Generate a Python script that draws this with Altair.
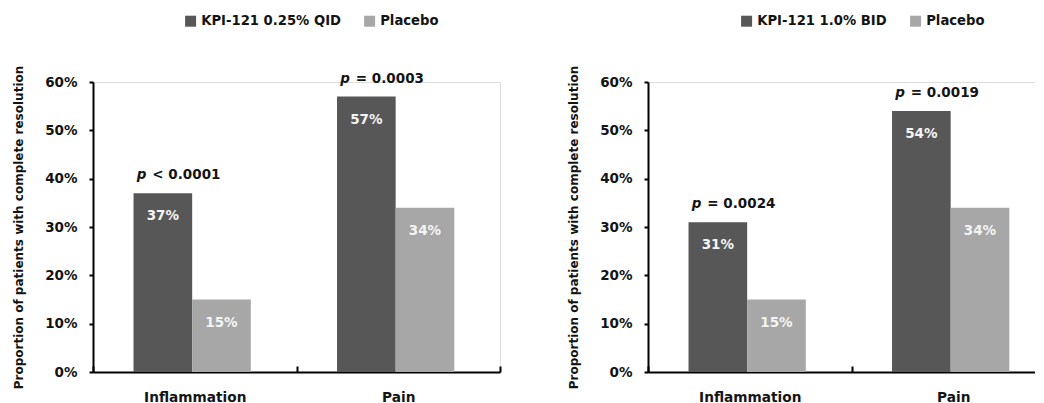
import altair as alt
import pandas as pd

# ---- data ----
categories = ["Inflammation", "Pain"]
placebo = "Placebo"
left_drug = "KPI-121 0.25% QID"
left_drug_vals = [37, 57]
left_placebo_vals = [15, 34]
left_pvals = ["< 0.0001", "= 0.0003"]

right_drug = "KPI-121 1.0% BID"
right_drug_vals = [31, 54]
right_placebo_vals = [15, 34]
right_pvals = ["= 0.0024", "= 0.0019"]

y_ticks = [0, 10, 20, 30, 40, 50, 60]
y_title = "Proportion of patients with complete resolution"

DARK = "#575757"
LIGHT = "#a7a7a7"
FONT = "DejaVu Sans"
TXT = "#141414"


def panel(drug, dvals, pvals, ptexts, legend_x):
    rows = []
    for c, d, p, s in zip(categories, dvals, pvals, ptexts):
        rows.append(dict(cat=c, grp=drug, val=d, lab=f"{d}%", pv=s, pp="p"))
        rows.append(dict(cat=c, grp=placebo, val=p, lab=f"{p}%", pv="", pp=""))
    df = pd.DataFrame(rows)
    order = [drug, placebo]

    x = alt.X(
        "cat:N",
        sort=categories,
        scale=alt.Scale(paddingInner=0, paddingOuter=0),
        axis=alt.Axis(
            title=None,
            labelAngle=0,
            tickBand="extent",
            tickSize={"expr": "-6"},
            labelPadding=24,
            labelFontSize=13.7,
        ),
    )
    xo = alt.XOffset(
        "grp:N",
        sort=order,
        scale=alt.Scale(paddingInner=0, paddingOuter=0.735, align=0.47),
    )
    y = alt.Y(
        "val:Q",
        scale=alt.Scale(domain=[0, 60], nice=False),
        axis=alt.Axis(
            values=y_ticks,
            labelExpr="datum.value + '%'",
            title=y_title,
            tickSize=4,
            labelPadding=12,
            titlePadding=19,
            titleFontSize=12,
            titleFontWeight="bold",
            titleColor=TXT,
        ),
    )
    color = alt.Color(
        "grp:N",
        sort=order,
        scale=alt.Scale(domain=order, range=[DARK, LIGHT]),
        legend=alt.Legend(
            title=None,
            orient="none",
            direction="horizontal",
            legendX=legend_x,
            legendY=-67.5,
            symbolType="square",
            symbolSize=121,
            symbolStrokeWidth=0,
            labelFont=FONT,
            labelFontSize=13.2,
            labelFontWeight="bold",
            labelColor=TXT,
            labelOffset=4,
            columnPadding=22,
            padding=0,
        ),
    )

    base = alt.Chart(df).encode(x=x, xOffset=xo, y=y)
    bars = base.mark_bar(strokeWidth=0).encode(color=color)
    inside = base.mark_text(
        font=FONT, fontSize=13.5, fontWeight="bold", color="#f4f4f4",
        baseline="middle", dy=23,
    ).encode(text="lab:N")
    drug_only = base.transform_filter(alt.datum.pv != "")
    p_italic = drug_only.mark_text(
        font=FONT, fontSize=13.5, fontWeight="bold", fontStyle="italic",
        color=TXT, align="left", baseline="middle", dx=-26, dy=-18,
    ).encode(text="pp:N")
    p_rest = drug_only.mark_text(
        font=FONT, fontSize=13.5, fontWeight="bold",
        color=TXT, align="left", baseline="middle", dx=-10.5, dy=-18,
    ).encode(text="pv:N")

    return alt.layer(bars, inside, p_italic, p_rest).properties(width=407, height=290)


left = panel(left_drug, left_drug_vals, left_placebo_vals, left_pvals, 91)
right = panel(right_drug, right_drug_vals, right_placebo_vals, right_pvals, 92)

chart = (
    alt.hconcat(left, right, spacing=148, bounds="flush")
    .resolve_scale(color="independent", x="independent", y="independent", xOffset="independent")
    .resolve_legend(color="independent")
    .properties(padding={"left": 4, "top": 6, "right": -22, "bottom": 0})
    .configure_view(strokeWidth=0, strokeOpacity=0)
    .configure(font=FONT, background="white")
    .configure_axis(
        domainColor="black",
        domainWidth=2,
        tickColor="black",
        tickWidth=2,
        labelFont=FONT,
        labelFontSize=13.5,
        labelFontWeight="bold",
        labelColor=TXT,
        titleFont=FONT,
        grid=False,
    )
)

chart.save("out.html", embed_options={"renderer": "svg", "actions": False})
